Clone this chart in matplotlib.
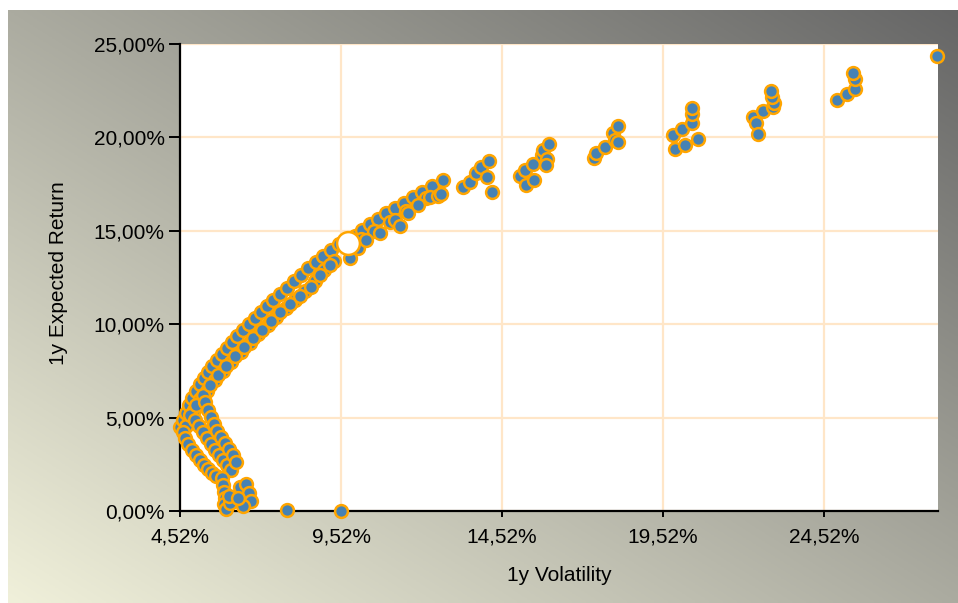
import numpy as np
import matplotlib
matplotlib.use('Agg')
import matplotlib.pyplot as plt
from matplotlib.ticker import FuncFormatter

plt.rcParams['font.family'] = ['Liberation Sans', 'DejaVu Sans']

# efficient frontier (upper edge of the cloud), values in %
frontier_vol = [4.52, 4.61, 4.71, 4.80, 4.89, 5.02, 5.14, 5.27, 5.39, 5.51, 5.67, 5.82, 5.98,
                6.13, 6.29, 6.48, 6.66, 6.85, 7.04, 7.22, 7.41, 7.63, 7.84, 8.06, 8.28, 8.50,
                8.74, 8.96, 9.21, 9.46, 9.96, 10.17, 10.42, 10.67, 10.92, 11.20, 11.48, 11.76,
                12.04, 12.35, 12.69]
frontier_ret = [4.50, 4.87, 5.25, 5.67, 6.05, 6.42, 6.80, 7.12, 7.44, 7.76, 8.08, 8.40, 8.73,
                9.05, 9.37, 9.69, 10.01, 10.33, 10.65, 10.97, 11.30, 11.62, 11.94, 12.31, 12.63,
                13.01, 13.33, 13.65, 13.97, 14.29, 14.72, 15.04, 15.36, 15.63, 15.95, 16.22,
                16.49, 16.81, 17.08, 17.40, 17.72]

# portfolios just below the frontier
inner_vol = [4.83, 5.02, 5.23, 5.45, 5.70, 5.95, 6.23, 6.51, 6.79, 7.07, 7.35, 7.63, 7.94,
             8.25, 8.59, 8.87, 9.18, 9.80, 10.05, 10.30, 10.73, 11.20, 11.35, 11.60, 11.91,
             12.28, 12.53, 12.62]
inner_ret = [5.14, 5.67, 6.21, 6.74, 7.28, 7.76, 8.30, 8.78, 9.26, 9.69, 10.17, 10.65, 11.08,
             11.51, 11.99, 12.63, 13.17, 13.54, 14.08, 14.51, 14.88, 15.58, 15.26, 15.95, 16.38,
             16.81, 16.86, 16.97]

band_vol = [4.70, 4.95, 5.15, 5.35, 5.60, 5.85, 6.10, 6.40, 6.70, 6.95, 7.25, 7.50, 7.80,
            8.10, 8.40, 8.70, 9.00, 9.30, 10.15, 10.55, 11.05, 11.55, 12.15]
band_ret = [4.55, 5.40, 6.00, 6.45, 7.00, 7.50, 8.00, 8.50, 9.00, 9.45, 9.95, 10.40, 10.85,
            11.30, 11.80, 12.30, 12.90, 13.40, 14.55, 15.00, 15.45, 16.05, 16.75]

# high-risk clusters
cluster_vol = [13.31, 13.53, 13.71, 13.87, 14.12, 14.05, 14.21,
               15.08, 15.23, 15.26, 15.48, 15.51, 15.76, 15.79, 15.98, 15.92, 15.89,
               17.38, 17.44, 17.72, 17.96, 18.12, 18.03, 18.12,
               19.83, 19.89, 20.20, 20.11, 20.42, 20.42, 20.42, 20.61,
               22.31, 22.41, 22.47, 22.63, 22.94, 22.97, 22.91, 22.87,
               24.92, 25.23, 25.48, 25.48, 25.42, 28.03]
cluster_ret = [17.34, 17.61, 18.09, 18.41, 18.74, 17.88, 17.08,
               17.93, 18.25, 17.45, 18.57, 17.72, 19.06, 19.32, 19.65, 18.84, 18.52,
               18.90, 19.16, 19.49, 20.23, 20.61, 19.86, 19.75,
               20.13, 19.38, 19.59, 20.45, 20.77, 21.25, 21.57, 19.91,
               21.09, 20.77, 20.18, 21.41, 21.63, 21.84, 22.16, 22.48,
               22.00, 22.32, 22.59, 23.12, 23.45, 24.36]

# inefficient lower branch
lower_vol = [4.61, 4.68, 4.77, 4.89, 5.02, 5.14, 5.27, 5.39, 5.51, 5.64,
             4.99, 5.11, 5.23, 5.36, 5.48, 5.61, 5.73, 5.86, 5.98, 6.10,
             5.30, 5.39, 5.48, 5.58, 5.67, 5.79, 5.92, 6.04, 6.17, 6.26,
             5.82, 5.86, 5.89, 5.92, 5.89, 5.95, 6.07, 6.04,
             6.38, 6.57, 6.66, 6.72, 6.48, 6.32, 7.84, 9.52]
lower_ret = [4.23, 3.91, 3.59, 3.27, 3.00, 2.73, 2.46, 2.25, 2.03, 1.87,
             4.87, 4.55, 4.23, 3.91, 3.59, 3.27, 3.00, 2.73, 2.46, 2.19,
             5.83, 5.41, 5.03, 4.66, 4.28, 3.96, 3.64, 3.32, 3.00, 2.62,
             1.77, 1.39, 1.02, 0.70, 0.37, 0.11, 0.43, 0.80,
             1.28, 1.45, 0.96, 0.54, 0.27, 0.70, 0.05, 0.00]

selected_vol = [9.74]
selected_ret = [14.35]

x_ticks = [4.52, 9.52, 14.52, 19.52, 24.52]
y_ticks = [0, 5, 10, 15, 20, 25]

fig = plt.figure(figsize=(9.58, 6.03), dpi=100, facecolor='white')

# gradient background panel
bg = fig.add_axes([8 / 958, 0, 950 / 958, 593 / 603], zorder=-5)
gx, gy = np.meshgrid(np.linspace(0, 1, 300), np.linspace(1, 0, 200))
t = (gx + gy) / 2
c0 = np.array([240, 240, 218]) / 255
c1 = np.array([102, 102, 102]) / 255
img = c0[None, None, :] * (1 - t[..., None]) + c1[None, None, :] * t[..., None]
bg.imshow(img, aspect='auto', extent=[0, 1, 0, 1])
bg.axis('off')

ax = fig.add_axes([180 / 958, 1 - 511 / 603, 758 / 958, 467 / 603])
ax.set_facecolor('white')

vol = frontier_vol + band_vol + inner_vol + cluster_vol + lower_vol
ret = frontier_ret + band_ret + inner_ret + cluster_ret + lower_ret
ax.scatter(vol, ret, s=85, facecolor='#4682B4', edgecolor='#FFA500', linewidth=1.8,
           zorder=3, clip_on=False)
ax.scatter(selected_vol, selected_ret, s=270, facecolor='white', edgecolor='#FFA500',
           linewidth=1.8, zorder=4, clip_on=False)

ax.set_xlim(4.52, 28.06)
ax.set_ylim(0, 25)
ax.set_xticks(x_ticks)
ax.set_yticks(y_ticks)
fmt = FuncFormatter(lambda v, p: ('%.2f%%' % v).replace('.', ','))
ax.xaxis.set_major_formatter(fmt)
ax.yaxis.set_major_formatter(fmt)

ax.grid(True, color='#FFE6C8', linewidth=1.6)
ax.set_axisbelow(True)

for s in ['top', 'right']:
    ax.spines[s].set_visible(False)
for s in ['left', 'bottom']:
    ax.spines[s].set_linewidth(1.6)
    ax.spines[s].set_color('black')

ax.tick_params(axis='y', length=8, width=1.4, pad=3, labelsize=15)
ax.tick_params(axis='x', length=4, width=1.4, pad=8, labelsize=15)

ax.set_xlabel('1y Volatility', fontsize=15)
ax.set_ylabel('1y Expected Return', fontsize=15)
ax.xaxis.set_label_coords(0.5, -0.118)
ax.yaxis.set_label_coords(-0.148, 0.51)

fig.savefig('out.png', dpi=100, facecolor='white')
